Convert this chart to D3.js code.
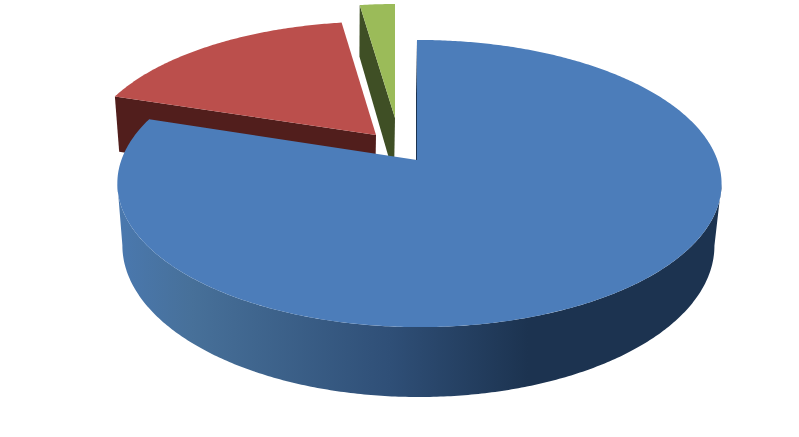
<!DOCTYPE html>
<html>
<head>
<meta charset="utf-8">
<script src="https://cdn.jsdelivr.net/npm/d3@7"></script>
<style>
  html, body { margin: 0; padding: 0; background: #fff; }
  svg { display: block; }
</style>
</head>
<body>
<script>
// Data (the reference has no labels, so slice names are placeholders)
var categories = ["Slice 1", "Slice 2", "Slice 3"];
var values = [80, 17.8, 2.2];

window.onload = function() {

    // Dimensions
    var w = 799, h = 437;

    // Look of each slice: top face, cut wall, how far it is pulled out (px)
    var topColors = ["#4c7dba", "#bb4f4c", "#9bbb59"];
    var wallColors = ["#1c3350", "#511e1c", "#3f4f25"];
    var shifts = [[0, 0], [-41, -25], [-22, -42]];
    // Pulled out slices sit further back, so they come out a bit smaller
    var shrinks = [[1, 1], [0.975, 0.945], [1, 0.95]];

    // The two planes of the 3D pie
    var topPlane = { x: 417, y: 160, a: 139.7, b: 298 };
    var basePlane = { x: 416, y: 220.7, a: 147.4, b: 292 };
    var tiltY = 0.164, tiltX = -0.008;

    // Angles where the round wall meets the outline on the right and left
    var wallStart = Math.PI - Math.acos(tiltY);
    var wallEnd = Math.PI + Math.acos(tiltY);

    // angle is clockwise from 12 o'clock
    function project(plane, angle, r) {
        var px = r * Math.sin(angle);
        var py = r * Math.cos(angle);
        var s = 1 / (1 + tiltY * py + tiltX * px);
        return [plane.x + plane.b * px * s, plane.y - plane.a * py * s];
    }

    function arcPoints(plane, a0, a1) {
        var n = Math.max(2, Math.ceil(Math.abs(a1 - a0) / 0.01));
        return d3.range(n + 1).map(function(i) {
            return project(plane, a0 + (a1 - a0) * i / n, 1);
        });
    }

    var line = d3.line();

    // SVG container
    var container = d3.select("body")
        .append("svg")
        .attr("width", w)
        .attr("height", h)
        .style("background-color", "#fff");

    // Shading of the round wall
    var gradient = container.append("defs")
        .append("linearGradient")
        .attr("id", "sideShade")
        .attr("gradientUnits", "userSpaceOnUse")
        .attr("x1", 120).attr("x2", 720)
        .attr("y1", 0).attr("y2", 0);

    gradient.selectAll("stop")
        .data([
            { at: 0, color: "#4a78ae" },
            { at: 0.12, color: "#477099" },
            { at: 0.45, color: "#2f4f77" },
            { at: 0.68, color: "#1c3350" },
            { at: 1, color: "#1c3350" }
        ])
        .enter()
        .append("stop")
        .attr("offset", d => d.at)
        .attr("stop-color", d => d.color);

    // Pie layout, no sorting so slices go clockwise in order
    var slices = d3.pie().sort(null)(values).map(function(d, i) {
        d.category = categories[i];
        d.topColor = topColors[i];
        d.wallColor = wallColors[i];
        d.shift = shifts[i];
        d.shrink = shrinks[i];
        return d;
    });

    // Back slices first, the big blue one goes over them
    var groups = container.selectAll(".slice")
        .data(slices.slice().reverse())
        .enter()
        .append("g")
        .attr("class", "slice")
        .attr("id", d => d.category.replace(" ", ""))
        .attr("transform", function(d) {
            return "translate(" + (topPlane.x + d.shift[0]) + "," + (topPlane.y + d.shift[1]) + ")" +
                " scale(" + d.shrink + ")" +
                " translate(" + (-topPlane.x) + "," + (-topPlane.y) + ")";
        });

    // Flat wall of the cut at the start angle
    groups.append("path")
        .attr("fill", d => d.wallColor)
        .attr("d", function(d) {
            return line([
                project(topPlane, d.startAngle, 1),
                project(topPlane, d.startAngle, 0),
                project(basePlane, d.startAngle, 0),
                project(basePlane, d.startAngle, 1)
            ]) + "Z";
        });

    // Round wall, only the front facing part
    groups.filter(d => d.endAngle - d.startAngle > Math.PI)
        .append("path")
        .attr("fill", "url(#sideShade)")
        .attr("d", function() {
            var top = arcPoints(topPlane, wallStart, wallEnd);
            var base = arcPoints(basePlane, wallEnd, wallStart);
            return line(top.concat(base)) + "Z";
        });

    // Top face
    groups.append("path")
        .attr("fill", d => d.topColor)
        .attr("d", function(d) {
            var pts = [project(topPlane, 0, 0)]
                .concat(arcPoints(topPlane, d.startAngle, d.endAngle));
            return line(pts) + "Z";
        });
};
</script>
</body>
</html>
